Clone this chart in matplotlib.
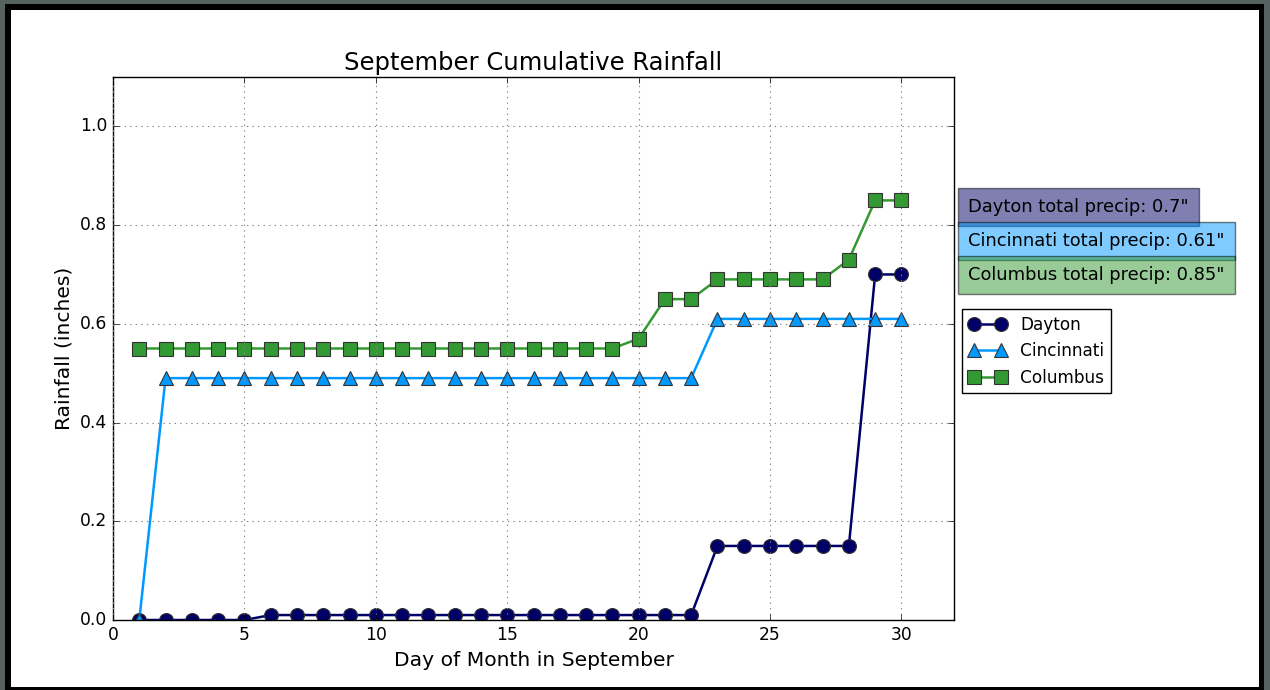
import numpy as np
import matplotlib
matplotlib.use("Agg")
import matplotlib.pyplot as plt
from matplotlib.patches import Rectangle

# cumulative rainfall, inches
days = list(range(1, 31))
dayton = [0, 0, 0, 0, 0] + [0.01] * 17 + [0.15] * 6 + [0.70] * 2
cincinnati = [0] + [0.49] * 21 + [0.61] * 8
columbus = [0.55] * 19 + [0.57, 0.65, 0.65] + [0.69] * 5 + [0.73, 0.85, 0.85]

cities = ['Dayton', 'Cincinnati', 'Columbus']
series = [dayton, cincinnati, columbus]
totals = [0.7, 0.61, 0.85]
colors = ['#000066', '#0099ff', '#339933']
markers = ['o', '^', 's']

plt.style.use('classic')
plt.rcParams['font.family'] = ['DejaVu Sans']

fig = plt.figure(figsize=(12.7, 6.9), dpi=100)
fig.patch.set_facecolor('#55625f')

# window frame of the screenshot
W, H = 1270.0, 690.0
fig.patches.append(Rectangle((5 / W, 0), (1264 - 5) / W, (690 - 4) / H,
                             transform=fig.transFigure, facecolor='black',
                             edgecolor='none', zorder=-2))
fig.patches.append(Rectangle((11 / W, 3 / H), (1259 - 11) / W, (680 - 3) / H,
                             transform=fig.transFigure, facecolor='white',
                             edgecolor='none', zorder=-1))

ax = fig.add_axes([113 / W, 70 / H, (954 - 113) / W, (620 - 77) / H])

for name, vals, c, m in zip(cities, series, colors, markers):
    ax.plot(days, vals, color=c, marker=m, markersize=10, linewidth=1.8,
            markeredgecolor='#333333', markeredgewidth=0.8, label=name)

ax.set_xlim(0, 32)
ax.set_ylim(0, 1.1)
ax.set_xticks([0, 5, 10, 15, 20, 25, 30])
ax.set_yticks([0.0, 0.2, 0.4, 0.6, 0.8, 1.0])
ax.grid(True, linestyle=':', color='#888888', linewidth=0.8)
ax.set_title('September Cumulative Rainfall', fontsize=17.5)
ax.set_xlabel('Day of Month in September', fontsize=14.6)
ax.set_ylabel('Rainfall (inches)', fontsize=14.6)
ax.tick_params(labelsize=12.3)

ax.legend(loc='upper left', bbox_to_anchor=(1.01, 0.573), fontsize=12.2,
          numpoints=2, borderaxespad=0, handlelength=2.2, fancybox=False)

ys = [0.7606, 0.698, 0.6354]
for name, tot, c, y in zip(cities, totals, colors, ys):
    ax.text(1.0166, y, '%s total precip: %s"' % (name, tot), transform=ax.transAxes,
            fontsize=12.9, va='center', ha='left',
            bbox=dict(facecolor=c, edgecolor='black', alpha=0.5, pad=7.5))

fig.savefig('out.png', dpi=100, facecolor=fig.get_facecolor())
